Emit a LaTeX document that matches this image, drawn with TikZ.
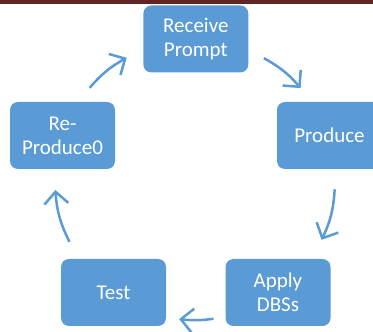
\documentclass[tikz,border=0pt]{standalone}
\usepackage{fontspec}
\setmainfont{Carlito}
\usetikzlibrary{arrows.meta,calc}
\definecolor{boxblue}{HTML}{5B9BD5}
\definecolor{barred}{HTML}{632523}
\tikzset{flow/.style = {draw=boxblue, line width=2.5pt, -{Straight Barb[length=12pt,width=24pt]}}}

\begin{document}
\begin{tikzpicture}[x=1pt, y=1pt, main node/.style={rectangle, rounded corners=8pt, fill=boxblue, text=white, minimum width=105pt, minimum height=67pt, inner sep=0pt, align=center, font=\fontsize{21}{24}\selectfont}]
            \clip (0,0) rectangle (373,332);
            \fill[barred] (0,327.7) rectangle (373,332);
            \node[main node] (rp) at (195.8,293) {Receive\\Prompt};
            \node[main node] (pr) at (329.5,196.5) {Produce};
            \node[main node] (ap) at (278,39.5) {Apply\\DBSs};
            \node[main node] (te) at (113.5,39.5) {Test};
            \node[main node] (rep) at (62.5,196.5) {Re-\\Produce0};
            \coordinate (mid) at (195,152);
            \foreach \n/\s/\e/\b in {1/60.5/41/10, 2/-3.8/-25.3/11, 3/-82.4/-96.5/7, 4/-153.8/-175.9/11, 5/138.8/119.2/10} {
                \coordinate (s\n) at ($(mid)+(\s:140)$);
                \coordinate (e\n) at ($(mid)+(\e:140)$);
                \draw[flow] (s\n) to[bend left=\b] (e\n);
            }
        \end{tikzpicture}
\end{document}
